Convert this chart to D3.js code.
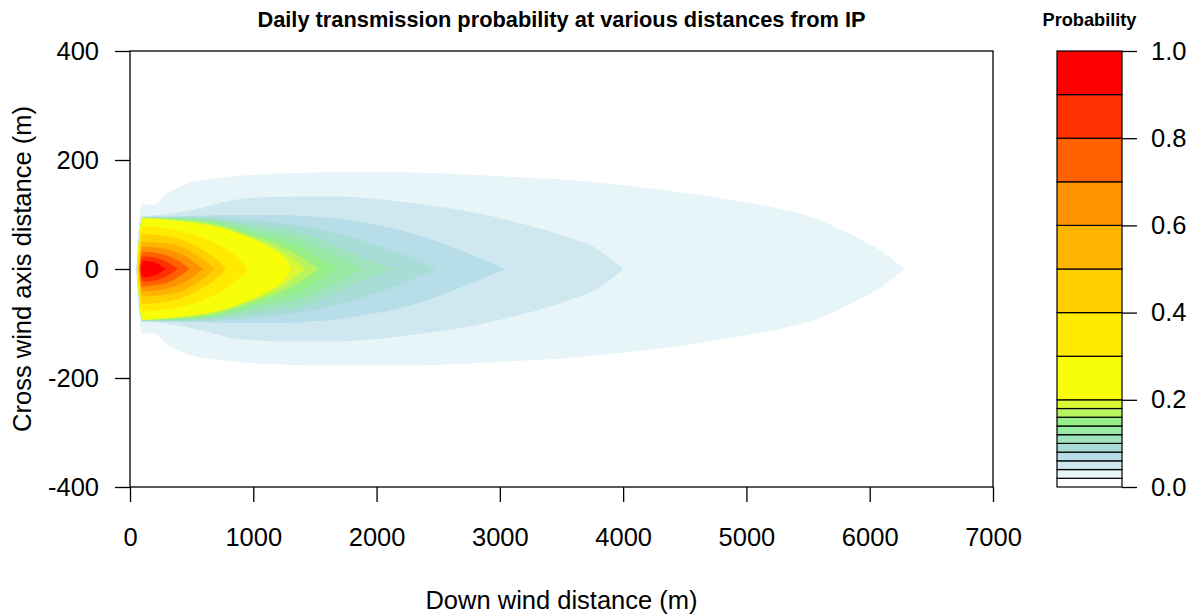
<!DOCTYPE html>
<html>
<head>
<meta charset="utf-8">
<script src="https://cdn.jsdelivr.net/npm/d3@7"></script>
<style>
  body { margin: 0; background: #fff; }
  text { font-family: "Liberation Sans", Arial, Helvetica, sans-serif; fill: #000; }
</style>
</head>
<body>
<svg id="chart" width="1199" height="616"></svg>
<script>
// Contour levels of the daily transmission probability
const levels = [0, 0.02, 0.04, 0.06, 0.08, 0.10, 0.12, 0.14, 0.16, 0.18, 0.2, 0.3, 0.4, 0.5, 0.6, 0.7, 0.8, 0.9, 1.0];
const xTicks = [0, 1000, 2000, 3000, 4000, 5000, 6000, 7000];
const yTicks = [-400, -200, 0, 200, 400];
const keyTicks = [0, 0.2, 0.4, 0.6, 0.8, 1.0];
const rampColors = ["white", "lightblue", "lightgreen", "yellow", "orange", "red"];

// Iso-probability outlines: [down wind distance (m), cross wind half-width (m)],
// the plume being symmetric about the wind axis.
const edge002 = [[50,0],[95,119],[187,118],[300,138],[460,156],[730,167],[1100,174],[1550,177],[2200,177],[2600,175],[3000,170],[3500,164],[3900,156],[4300,146],[4750,131],[5180,114],[5520,96],[5860,62],[6100,32],[6280,0]];
const edge004 = [[52,0],[100,97],[250,99],[400,104],[570,112],[800,125],[1100,132],[1400,133],[1700,133],[1920,130],[2100,126],[2500,114],[2800,103],[3000,93],[3250,79],[3540,59],[3800,35],[4000,0]];
const edge006 = [[53,0],[100,96],[400,97],[800,99],[1200,99],[1500,96],[1700,92],[1920,84],[2200,71],[2460,53],[2750,28],[3040,0]];
const edge008 = [[54,0],[100,95],[500,96],[800,94],[1000,89],[1200,85],[1380,80],[1600,69],[1920,50],[2190,28],[2490,0]];
const edge010 = [[55,0],[100,95],[400,95],[700,91],[1000,81],[1200,75],[1380,68],[1640,46],[1920,18],[2140,0]];
const edge012 = [[56,0],[100,94],[400,93],[700,88],[1000,73],[1200,64],[1380,55],[1600,32],[1880,0]];
const edge014 = [[56,0],[100,94],[400,92],[700,85],[1000,66],[1200,54],[1380,41],[1550,18],[1680,0]];
const edge016 = [[57,0],[100,93],[400,90],[700,82],[1000,60],[1200,44],[1380,24],[1530,0]];
const edge018 = [[57,0],[100,93],[400,89],[700,79],[1000,56],[1200,36],[1420,0]];
const edge020 = [[58,0],[100,93],[300,90],[520,84],[800,71],[1000,54],[1150,36],[1250,20],[1310,0]];
const edge030 = [[62,0],[100,78],[300,74],[500,64],[700,46],[850,25],[957,0]];
const edge040 = [[66,0],[100,64],[250,61],[420,53],[580,36],[700,18],[780,0]];
const edge050 = [[70,0],[100,50],[250,48],[390,43],[500,31],[580,20],[687,0]];
const edge060 = [[74,0],[100,41],[230,39],[350,33],[460,22],[592,0]];
const edge070 = [[78,0],[100,32],[200,30],[300,25],[400,14],[484,0]];
const edge080 = [[83,0],[100,23],[180,22],[260,17],[330,9],[389,0]];
const edge090 = [[88,0],[100,15],[160,14],[220,10],[290,0]];

// outlines[i] encloses the area where probability >= levels[i + 1]
const outlines = [edge002, edge004, edge006, edge008, edge010, edge012, edge014, edge016, edge018,
                  edge020, edge030, edge040, edge050, edge060, edge070, edge080, edge090];

(function draw() {
  const svg = d3.select("#chart");
  const plotL = 130, plotR = 993, plotT = 51, plotB = 487;

  const x = d3.scaleLinear().domain([0, 7000]).range([plotL, plotR]);
  const y = d3.scaleLinear().domain([-400, 400]).range([plotB, plotT]);

  const ramp = d3.piecewise(d3.interpolateRgb, rampColors);
  const nBands = levels.length - 1;
  const bandColors = d3.range(nBands).map(i => d3.color(ramp(i / (nBands - 1))).formatHex());

  // plot region
  svg.append("clipPath").attr("id", "plotClip")
    .append("rect").attr("x", plotL).attr("y", plotT).attr("width", plotR - plotL).attr("height", plotB - plotT);

  const area = d3.area()
    .curve(d3.curveMonotoneX)
    .x(d => x(d[0]))
    .y0(d => y(-d[1]))
    .y1(d => y(d[1]));

  svg.append("g").attr("clip-path", "url(#plotClip)")
    .selectAll("path")
    .data(outlines)
    .join("path")
    .attr("d", d => area(d))
    .attr("fill", (d, i) => bandColors[i + 1]);

  // frame
  svg.append("rect")
    .attr("x", plotL).attr("y", plotT).attr("width", plotR - plotL).attr("height", plotB - plotT)
    .attr("fill", "none").attr("stroke", "#000").attr("stroke-width", 1.3);

  const fontSize = 25.5;

  const xAxis = svg.append("g").attr("transform", `translate(0,${plotB})`)
    .call(d3.axisBottom(x).tickValues(xTicks).tickFormat(d3.format("d")).tickSize(15).tickSizeOuter(0).tickPadding(26));
  const yAxis = svg.append("g").attr("transform", `translate(${plotL},0)`)
    .call(d3.axisLeft(y).tickValues(yTicks).tickFormat(d => String(d)).tickSize(15).tickSizeOuter(0).tickPadding(16));

  [xAxis, yAxis].forEach(g => {
    g.select(".domain").remove();
    g.selectAll(".tick line").attr("stroke", "#000").attr("stroke-width", 1.3);
    g.selectAll(".tick text").attr("font-size", fontSize).attr("font-family", null).style("fill", "#000");
  });

  // axis titles
  svg.append("text")
    .attr("x", (plotL + plotR) / 2).attr("y", 609)
    .attr("text-anchor", "middle").attr("font-size", fontSize)
    .text("Down wind distance (m)");

  svg.append("text")
    .attr("transform", `translate(31,${(plotT + plotB) / 2}) rotate(-90)`)
    .attr("text-anchor", "middle").attr("font-size", fontSize)
    .text("Cross wind axis distance (m)");

  svg.append("text")
    .attr("x", (plotL + plotR) / 2).attr("y", 27)
    .attr("text-anchor", "middle").attr("font-size", 21.8).attr("font-weight", "bold")
    .text("Daily transmission probability at various distances from IP");

  // colour key
  const keyL = 1057, keyR = 1122;
  const keyY = d3.scaleLinear().domain([0, 1]).range([plotB, plotT]);

  svg.append("g").selectAll("rect")
    .data(d3.range(nBands))
    .join("rect")
    .attr("x", keyL)
    .attr("y", i => keyY(levels[i + 1]))
    .attr("width", keyR - keyL)
    .attr("height", i => keyY(levels[i]) - keyY(levels[i + 1]))
    .attr("fill", i => bandColors[i])
    .attr("stroke", "#000").attr("stroke-width", 1.2);

  const keyAxis = svg.append("g").attr("transform", `translate(${keyR},0)`)
    .call(d3.axisRight(keyY).tickValues(keyTicks).tickFormat(d3.format(".1f")).tickSize(15).tickSizeOuter(0).tickPadding(14));
  keyAxis.select(".domain").remove();
  keyAxis.selectAll(".tick line").attr("stroke", "#000").attr("stroke-width", 1.3);
  keyAxis.selectAll(".tick text").attr("font-size", fontSize).attr("font-family", null).style("fill", "#000");

  svg.append("text")
    .attr("x", (keyL + keyR) / 2).attr("y", 26)
    .attr("text-anchor", "middle").attr("font-size", 18.2).attr("font-weight", "bold")
    .text("Probability");
})();
</script>
</body>
</html>
